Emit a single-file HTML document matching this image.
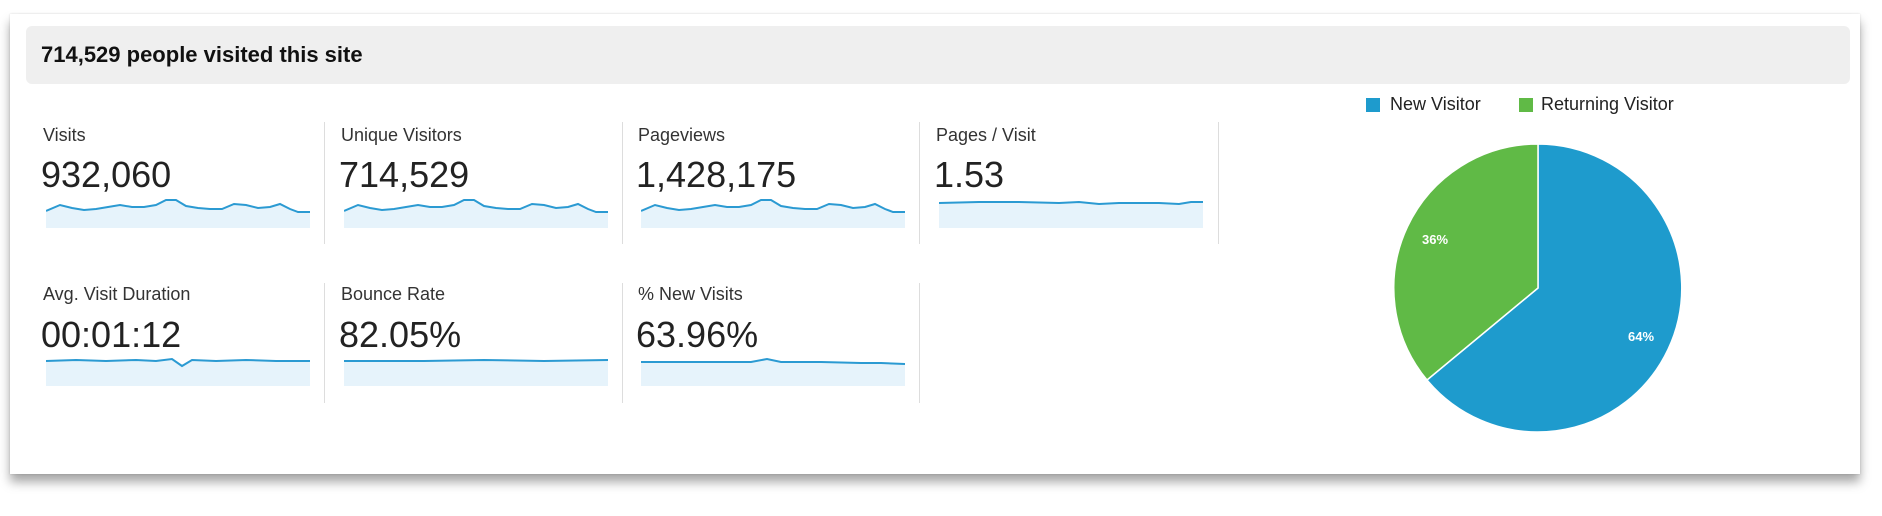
<!DOCTYPE html>
<html><head><meta charset="utf-8"><style>
body{margin:0;width:1882px;height:516px;background:#fff;position:relative;overflow:hidden;font-family:"Liberation Sans",Arial,sans-serif;color:#222}
.card{position:absolute;left:10px;top:14px;width:1850px;height:460px;background:#fff;box-shadow:0 8px 10px rgba(0,0,0,.35),0 0 2px rgba(0,0,0,.15)}
.hdr{position:absolute;left:26px;top:26px;width:1824px;height:58px;background:#efefef;border-radius:6px}
.hdr span{position:absolute;left:15px;top:16px;font-size:22px;font-weight:bold;color:#111}
.lbl{position:absolute;font-size:18px;color:#333}
.val{position:absolute;font-size:36px;color:#222}
.div{position:absolute;width:1px;background:#ddd}
svg{position:absolute}
.leg{position:absolute;font-size:18px;color:#222;top:94px}
.sq{position:absolute;width:14px;height:14px;top:98px}
</style></head><body>
<div class="card"></div>
<div class="hdr"><span>714,529 people visited this site</span></div>

<div class="lbl" style="left:43px;top:125px">Visits</div>
<div class="val" style="left:41px;top:154px">932,060</div>
<div class="lbl" style="left:341px;top:125px">Unique Visitors</div>
<div class="val" style="left:339px;top:154px">714,529</div>
<div class="lbl" style="left:638px;top:125px">Pageviews</div>
<div class="val" style="left:636px;top:154px">1,428,175</div>
<div class="lbl" style="left:936px;top:125px">Pages / Visit</div>
<div class="val" style="left:934px;top:154px">1.53</div>

<div class="lbl" style="left:43px;top:284px">Avg. Visit Duration</div>
<div class="val" style="left:41px;top:314px">00:01:12</div>
<div class="lbl" style="left:341px;top:284px">Bounce Rate</div>
<div class="val" style="left:339px;top:314px">82.05%</div>
<div class="lbl" style="left:638px;top:284px">% New Visits</div>
<div class="val" style="left:636px;top:314px">63.96%</div>

<div class="div" style="left:324px;top:122px;height:122px"></div>
<div class="div" style="left:622px;top:122px;height:122px"></div>
<div class="div" style="left:919px;top:122px;height:122px"></div>
<div class="div" style="left:1218px;top:122px;height:122px"></div>
<div class="div" style="left:324px;top:283px;height:120px"></div>
<div class="div" style="left:622px;top:283px;height:120px"></div>
<div class="div" style="left:919px;top:283px;height:120px"></div>

<!-- sparklines -->
<svg style="left:46px;top:198px" width="264" height="32" viewBox="0 0 264 32">
<polygon fill="#e6f3fb" points="0,13 14,7 26,10 38,12 50,11 62,9 74,7 86,9 98,9 110,7 120,2 130,2 140,8 152,10 164,11 176,11 188,6 200,7 212,10 224,9 234,6 244,11 252,14 264,14 264,30 0,30"/>
<polyline fill="none" stroke="#2b9ad2" stroke-width="2" points="0,13 14,7 26,10 38,12 50,11 62,9 74,7 86,9 98,9 110,7 120,2 130,2 140,8 152,10 164,11 176,11 188,6 200,7 212,10 224,9 234,6 244,11 252,14 264,14"/></svg>
<svg style="left:344px;top:198px" width="264" height="32" viewBox="0 0 264 32">
<polygon fill="#e6f3fb" points="0,13 14,7 26,10 38,12 50,11 62,9 74,7 86,9 98,9 110,7 120,2 130,2 140,8 152,10 164,11 176,11 188,6 200,7 212,10 224,9 234,6 244,11 252,14 264,14 264,30 0,30"/>
<polyline fill="none" stroke="#2b9ad2" stroke-width="2" points="0,13 14,7 26,10 38,12 50,11 62,9 74,7 86,9 98,9 110,7 120,2 130,2 140,8 152,10 164,11 176,11 188,6 200,7 212,10 224,9 234,6 244,11 252,14 264,14"/></svg>
<svg style="left:641px;top:198px" width="264" height="32" viewBox="0 0 264 32">
<polygon fill="#e6f3fb" points="0,13 14,7 26,10 38,12 50,11 62,9 74,7 86,9 98,9 110,7 120,2 130,2 140,8 152,10 164,11 176,11 188,6 200,7 212,10 224,9 234,6 244,11 252,14 264,14 264,30 0,30"/>
<polyline fill="none" stroke="#2b9ad2" stroke-width="2" points="0,13 14,7 26,10 38,12 50,11 62,9 74,7 86,9 98,9 110,7 120,2 130,2 140,8 152,10 164,11 176,11 188,6 200,7 212,10 224,9 234,6 244,11 252,14 264,14"/></svg>
<svg style="left:939px;top:198px" width="264" height="32" viewBox="0 0 264 32">
<polygon fill="#e6f3fb" points="0,5 40,4 80,4 120,5 140,4 160,6 180,5 220,5 240,6 252,4 264,4 264,30 0,30"/>
<polyline fill="none" stroke="#2b9ad2" stroke-width="2" points="0,5 40,4 80,4 120,5 140,4 160,6 180,5 220,5 240,6 252,4 264,4"/></svg>

<svg style="left:46px;top:356px" width="264" height="32" viewBox="0 0 264 32">
<polygon fill="#e6f3fb" points="0,5 30,4 60,5 90,4 110,5 126,3 136,10 146,4 170,5 200,4 230,5 250,5 264,5 264,30 0,30"/>
<polyline fill="none" stroke="#2b9ad2" stroke-width="2" points="0,5 30,4 60,5 90,4 110,5 126,3 136,10 146,4 170,5 200,4 230,5 250,5 264,5"/></svg>
<svg style="left:344px;top:356px" width="264" height="32" viewBox="0 0 264 32">
<polygon fill="#e6f3fb" points="0,5 80,5 140,4 200,5 264,4 264,30 0,30"/>
<polyline fill="none" stroke="#2b9ad2" stroke-width="2" points="0,5 80,5 140,4 200,5 264,4"/></svg>
<svg style="left:641px;top:356px" width="264" height="32" viewBox="0 0 264 32">
<polygon fill="#e6f3fb" points="0,6 60,6 110,6 126,3 140,6 180,6 220,7 240,7 264,8 264,30 0,30"/>
<polyline fill="none" stroke="#2b9ad2" stroke-width="2" points="0,6 60,6 110,6 126,3 140,6 180,6 220,7 240,7 264,8"/></svg>

<!-- legend -->
<div class="sq" style="left:1366px;background:#1e9bcd"></div>
<div class="leg" style="left:1390px">New Visitor</div>
<div class="sq" style="left:1519px;background:#60ba46"></div>
<div class="leg" style="left:1541px">Returning Visitor</div>

<!-- pie -->
<svg style="left:1390px;top:140px" width="300" height="300" viewBox="1390 140 300 300">
<path d="M1538,288 L1538,144 A144,144 0 1 1 1427,380 Z" fill="#1e9bcd" stroke="#fff" stroke-width="1.5"/>
<path d="M1538,288 L1427,380 A144,144 0 0 1 1538,144 Z" fill="#60ba46" stroke="#fff" stroke-width="1.5"/>
<text x="1422" y="244" fill="#fff" font-size="13" font-weight="bold" font-family="Liberation Sans,sans-serif">36%</text>
<text x="1628" y="341" fill="#fff" font-size="13" font-weight="bold" font-family="Liberation Sans,sans-serif">64%</text>
</svg>
</body></html>
